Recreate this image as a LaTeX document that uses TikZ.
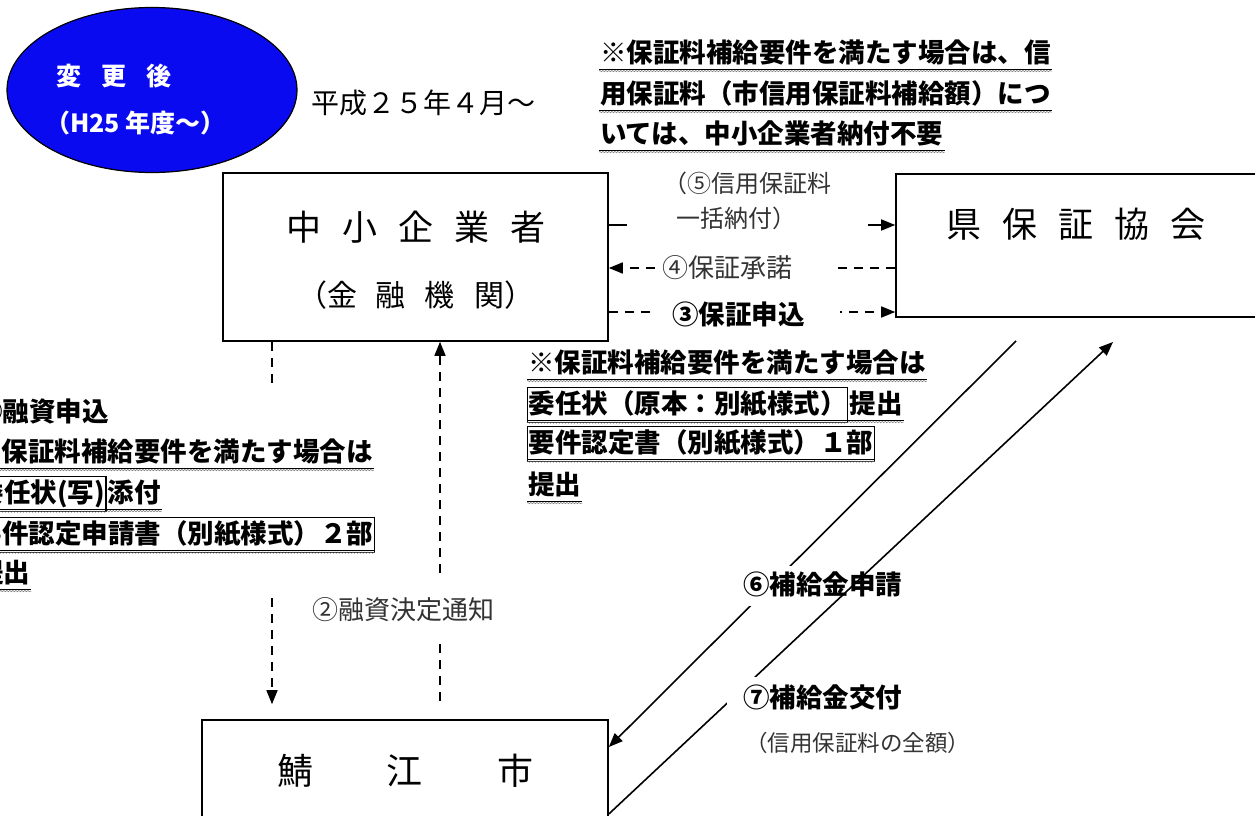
\documentclass[tikz,border=0pt]{standalone}
\usepackage{fontspec}
\setmainfont{Noto Sans CJK JP}
\usepackage{xcolor}
\usepackage{tikz}
\usetikzlibrary{arrows.meta}
\usetikzlibrary{shapes.geometric}
\usetikzlibrary{positioning}
\usetikzlibrary{decorations.pathmorphing}
\definecolor{afterblue}{RGB}{10,10,240}
\tikzset{
    box/.style = {rectangle, draw=black, line width=1.6pt, inner sep=0pt},
    boxtext/.style = {inner sep=0pt, font=\fontsize{35}{40}\selectfont},
    lbl/.style = {inner sep=0pt, text=black!80, font=\fontsize{26}{35}\selectfont},
    cover/.style = {fill=white},
    note/.style = {anchor=west, inner xsep=1pt, inner ysep=4pt, text height=22pt, text depth=5pt, font=\bfseries\fontsize{26.5}{30}\selectfont},
    boxed/.style = {draw=black, line width=1.3pt},
    uline/.style = {append after command={
        ([yshift=2.5pt]\tikzlastnode.south west) edge[draw=black, line width=0.9pt] ([yshift=2.5pt]\tikzlastnode.south east)
        ([yshift=0.6pt]\tikzlastnode.south west) edge[draw=black!55, line width=0.5pt, decorate, decoration={snake, amplitude=0.7pt, segment length=3pt}] ([yshift=0.6pt]\tikzlastnode.south east)}},
    flow/.style = {->, line width=1.6pt},
    dflow/.style = {flow, dash pattern=on 9pt off 7pt}
}

\begin{document}
\begin{tikzpicture}[x=1pt, y=-1pt, >={Triangle[length=14pt,width=11pt]}]
\useasboundingbox (0,0) rectangle (1255,816);
\clip (0,0) rectangle (1255,816);

% title
\node [ellipse, draw=black, line width=1.2pt, fill=afterblue, minimum width=290pt, minimum height=165pt] (after) at (152,90) {};
\node [anchor=west, inner sep=0pt, text=white, font=\bfseries\fontsize{25}{30}\selectfont] (aftername) at (56,76) {変\hspace{20pt}更\hspace{20pt}後};
\node [anchor=west, inner sep=0pt, text=white, font=\bfseries\fontsize{25}{30}\selectfont] (afteryear) at (45,123) {（H25 年度〜）};
\node [anchor=west, inner sep=0pt, font=\fontsize{28}{30}\selectfont] (start) at (311,103) {平成２５年４月〜};

% boxes
\node [box, minimum width=385pt, minimum height=168pt] (firm) at (415.5,257) {};
\node [boxtext] (firmname) at ([yshift=-55pt]firm.north) {中\hspace{21pt}小\hspace{21pt}企\hspace{21pt}業\hspace{21pt}者};
\node [boxtext, font=\fontsize{30}{40}\selectfont] (firmbank) at ([yshift=-123pt]firm.north) {（金\hspace{19pt}融\hspace{19pt}機\hspace{19pt}関）};
\node [box, minimum width=360pt, minimum height=143pt] (guar) at (1076,245.5) {};
\node [boxtext] (guarname) at ([yshift=-51pt]guar.north) {県\hspace{21pt}保\hspace{21pt}証\hspace{21pt}協\hspace{21pt}会};
\node [box, minimum width=406pt, minimum height=180pt] (city) at (405,810) {};
\node [boxtext, font=\fontsize{36}{40}\selectfont] (cityname) at ([yshift=-52pt]city.north) {鯖\hspace{74pt}江\hspace{74pt}市};

% flows
\draw [flow] (firm.east |- 0,225) -- (guar.west |- 0,225);
\draw [dflow] (guar.west |- 0,268) -- (firm.east |- 0,268);
\draw [dflow] (firm.east |- 0,312) -- (guar.west |- 0,312);
\draw [dflow, shorten >=15pt] (firm.south -| 272,0) -- (city.north -| 272,0);
\draw [dflow, shorten <=18pt] (city.north -| 440,0) -- (firm.south -| 440,0);

\node [lbl, cover, font=\fontsize{24}{35}\selectfont, align=left, minimum width=241pt, minimum height=70pt] (pay) at (747,201) {（⑤信用保証料\\\hspace*{13pt}一括納付）};
\node [lbl, cover, anchor=west, inner xsep=7pt, inner ysep=6pt, text width=167pt] (accept) at (655,268) {④保証承諾};
\node [lbl, cover, anchor=west, inner xsep=20pt, inner ysep=8pt, text width=148pt, text=black, font=\bfseries\fontsize{26.5}{30}\selectfont] (apply) at (652,314) {③保証申込};

\fill [white] (-30,388) rectangle (380,598);
\node [lbl, cover, anchor=west, inner xsep=7pt, minimum height=66pt] (notice) at (305,610) {②融資決定通知};

\coordinate (claimtop) at (1016,341);
\coordinate (granttop) at (1113,342);
\draw [flow] (claimtop) -- (city.east |- 0,747);
\node [note, cover, inner xsep=5pt, minimum height=40pt] (claim) at (738,586) {⑥補給金申請};
\draw [flow] (city.east |- 0,814) -- (granttop);
\node [note, cover, inner xsep=16pt, minimum height=45pt] (grant) at (727,699) {⑦補給金交付};
\node [lbl, anchor=west, font=\fontsize{22.5}{30}\selectfont] (grantsum) at (745,743) {（信用保証料の全額）};

% notes
\node [note, uline] (free1) at (599,54) {※保証料補給要件を満たす場合は、信};
\node [note, uline] (free2) at (599,95) {用保証料（市信用保証料補給額）につ};
\node [note, uline] (free3) at (599,135) {いては、中小企業者納付不要};

\node [note, uline] (req1) at (527,364) {※保証料補給要件を満たす場合は};
\node [note, boxed, uline] (req2) at (527,405) {委任状（原本：別紙様式）};
\node [note, uline, right=0pt of req2] (req2b) {提出};
\node [note, boxed, uline] (req3) at (527,444) {要件認定書（別紙様式）１部};
\node [note, uline] (req4) at (527,486) {提出};

\node [note] (loan1) at (-25,413) {①融資申込};
\node [note, uline] (loan2) at (-26,453) {※保証料補給要件を満たす場合は};
\node [note, boxed, uline] (loan3) at (-24,494) {委任状(写)};
\node [note, uline, right=0pt of loan3] (loan3b) {添付};
\node [note, boxed, uline] (loan4) at (-26,535) {要件認定申請書（別紙様式）２部};
\node [note, uline] (loan5) at (-24,574) {提出};
\end{tikzpicture}
\end{document}
